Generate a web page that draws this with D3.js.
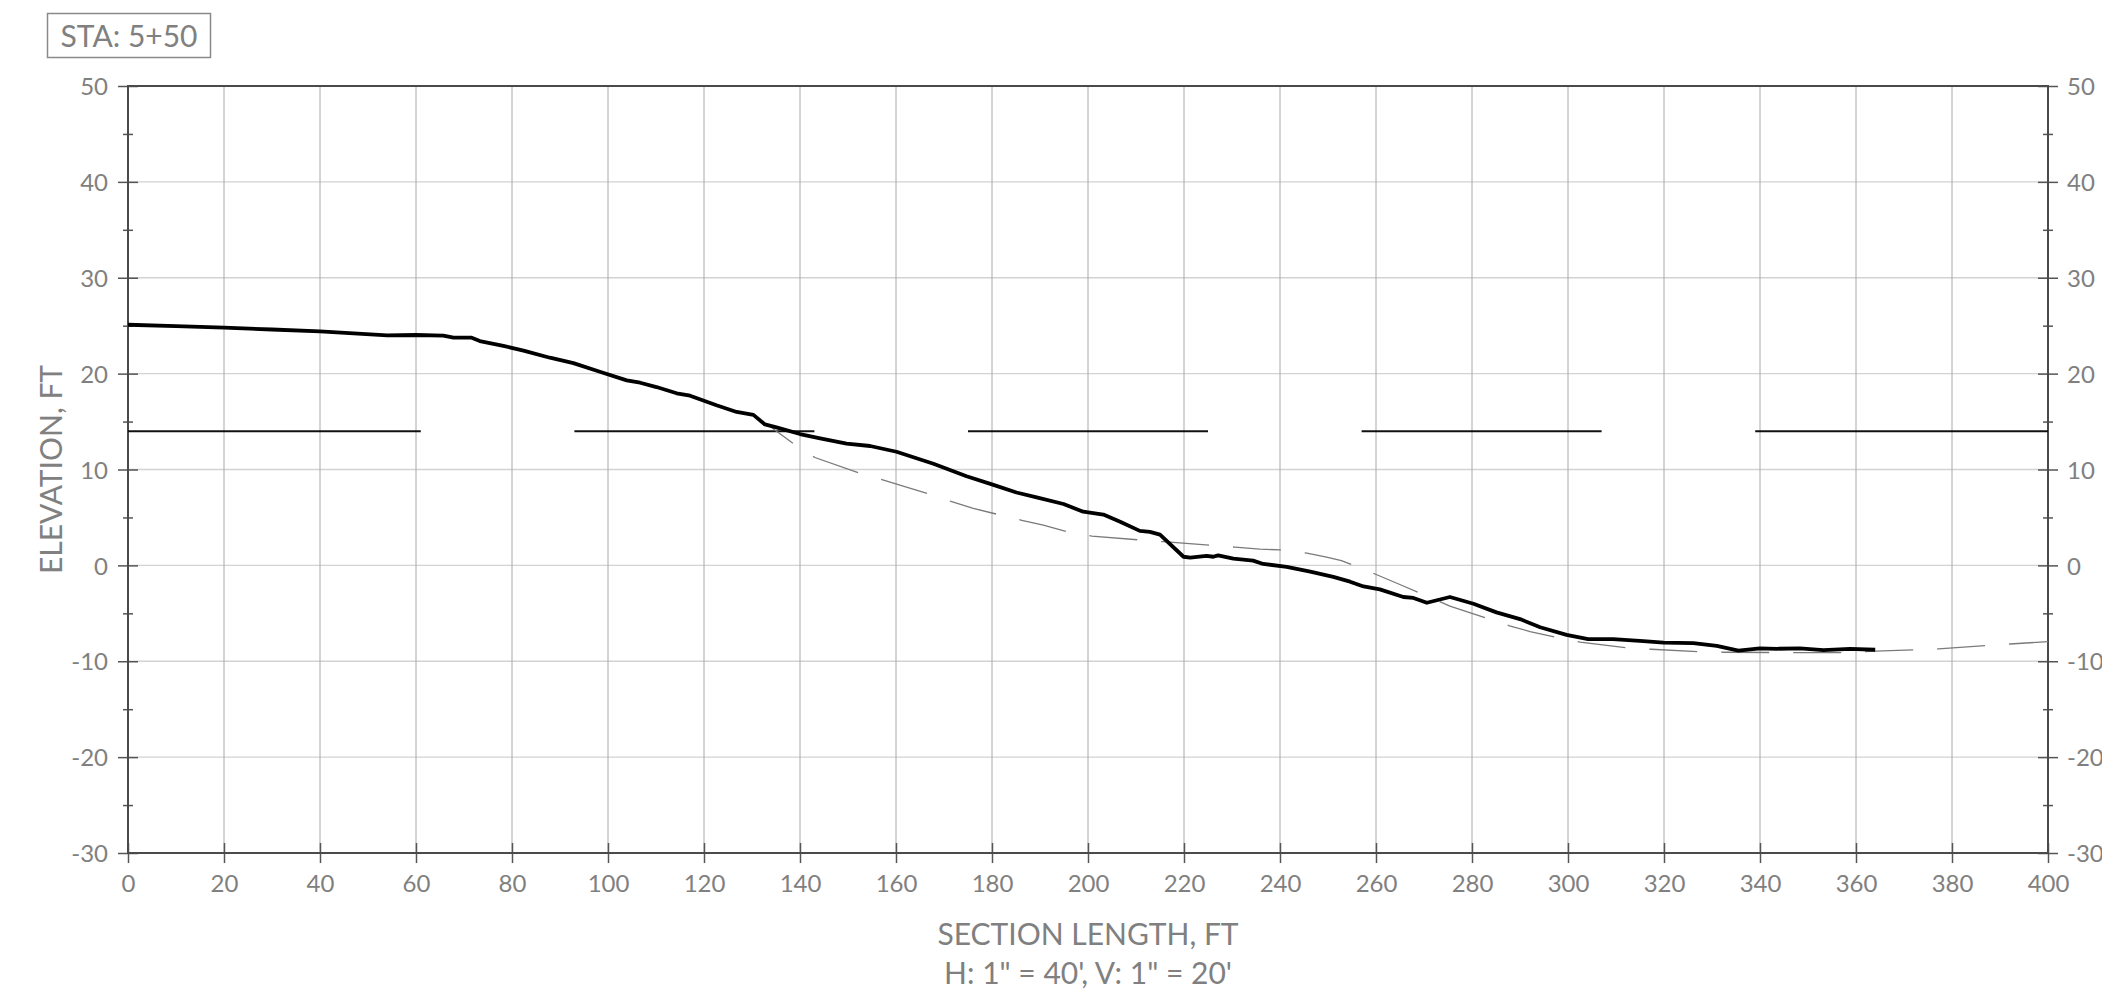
<!DOCTYPE html>
<html>
<head>
<meta charset="utf-8">
<script src="https://cdn.jsdelivr.net/npm/d3@7"></script>
<style>
  body { margin: 0; background: #fff; }
  svg text { font-family: "Century Gothic", "URW Gothic", Lato, sans-serif; fill: #808080; }
</style>
</head>
<body>
<div id="chart"></div>
<script>
// station label
var stationLabel = "STA: 5+50";

// existing ground profile (offset ft, elevation ft)
var groundX = [0, 10, 20, 30, 40, 54, 60, 65.7, 67.8, 71.6, 73.3, 78.2, 82.4, 87.9, 92.8, 98.3,
  103.9, 106.7, 110.1, 114.3, 117.1, 122.6, 126.8, 130.3, 132.7, 135.1, 140, 144.2, 149.7, 154.6,
  160.1, 167.8, 174.7, 180.3, 185.1, 189.3, 194.9, 199, 203.2, 206.7, 210.8, 212.9, 215, 219.9,
  221.3, 224.7, 226.1, 227.1, 230.3, 234.4, 236.5, 241.4, 246.3, 251.1, 254.6, 257.4, 260.8,
  265.7, 267.8, 270.6, 275.4, 280.3, 285.1, 290, 294.2, 299.7, 304.2, 309.4, 315.7, 319.9,
  326.1, 331, 335.5, 340, 343.5, 348.3, 353.2, 358.8, 364];
var groundY = [25.1, 24.95, 24.8, 24.6, 24.4, 24.0, 24.03, 23.96, 23.75, 23.75, 23.4, 22.9, 22.4, 21.66, 21.1, 20.2,
  19.3, 19.05, 18.6, 17.95, 17.7, 16.7, 16.0, 15.7, 14.7, 14.4, 13.7, 13.25, 12.7, 12.45,
  11.85, 10.6, 9.3, 8.4, 7.6, 7.1, 6.4, 5.6, 5.3, 4.55, 3.6, 3.5, 3.2, 0.9,
  0.8, 1.0, 0.9, 1.05, 0.7, 0.5, 0.15, -0.15, -0.65, -1.2, -1.7, -2.2, -2.5,
  -3.3, -3.4, -3.9, -3.3, -4.0, -4.9, -5.6, -6.45, -7.25, -7.7, -7.7, -7.9, -8.05,
  -8.1, -8.4, -8.9, -8.65, -8.7, -8.65, -8.85, -8.7, -8.8];

// proposed profile (dashed)
var designX = [133.5, 139, 143.1, 152.5, 157.4, 167.1, 171.6, 176.1, 181.3, 186.2, 190.7, 196, 200.8,
  210.8, 215.7, 225.8, 230.6, 235.8, 240.7, 245.6, 249.7, 252.8, 255.3, 259.8, 265.7, 269.2,
  275.4, 283, 287.8, 292.1, 297.6, 302.5, 312.2, 317.4, 327.1, 332.4, 347.3, 357.4, 364, 372.3,
  377.2, 387.2, 392.1, 400];
var designY = [14.6, 12.55, 11.25, 9.6, 8.9, 7.4, 6.65, 5.95, 5.3, 4.7, 4.2, 3.45, 3.06,
  2.65, 2.47, 2.1, 1.9, 1.7, 1.6, 1.27, 0.85, 0.5, 0.0, -0.9, -2.15, -2.9,
  -4.24, -5.5, -6.3, -6.9, -7.5, -8.0, -8.6, -8.75, -9.0, -9.06, -9.1, -9.1, -8.95, -8.8,
  -8.7, -8.35, -8.2, -7.95];

// water surface segments at elevation 14
var waterElev = 14;
var waterStart = [0, 93, 175, 257, 339];
var waterEnd = [61, 143, 225, 307, 400];

var xTicks = d3.range(0, 401, 20);
var yTicks = d3.range(-30, 51, 10);
var yMinorTicks = d3.range(-25, 50, 10);

var svgWidth = 2102, svgHeight = 994;
var margin = {top: 86, right: 54, bottom: 141, left: 128};
var width = svgWidth - margin.left - margin.right;
var height = svgHeight - margin.top - margin.bottom;

var svg = d3.select("#chart").append("svg")
  .attr("width", svgWidth)
  .attr("height", svgHeight);

var g = svg.append("g")
  .attr("transform", `translate(${margin.left}, ${margin.top})`);

var x = d3.scaleLinear().domain([0, 400]).range([0, width]);
var y = d3.scaleLinear().domain([-30, 50]).range([height, 0]);

// plain hyphen for negatives, like the drawing
var fmt = d => String(d);

// grid
g.append("g").selectAll("line")
  .data(yTicks.filter(d => d > -30 && d < 50))
  .enter().append("line")
  .attr("x1", 0).attr("x2", width)
  .attr("y1", d => y(d)).attr("y2", d => y(d))
  .attr("stroke", "#d2d2d2").attr("stroke-width", 1.4);

g.append("g").selectAll("line")
  .data(xTicks.filter(d => d > 0 && d < 400))
  .enter().append("line")
  .attr("y1", 0).attr("y2", height)
  .attr("x1", d => x(d)).attr("x2", d => x(d))
  .attr("stroke", "#a8a8a8").attr("stroke-width", 1);

// axes: outer ticks with labels, inner ticks without
function styleAxis(sel) {
  sel.select(".domain").remove();
  sel.selectAll(".tick line").attr("stroke", "#555").attr("stroke-width", 1.5);
  sel.selectAll(".tick text").style("font-size", "24px").attr("fill", "#808080");
}

var bottomOut = g.append("g").attr("transform", `translate(0, ${height})`)
  .call(d3.axisBottom(x).tickValues(xTicks).tickSize(10).tickPadding(12).tickFormat(fmt));
styleAxis(bottomOut);
var bottomIn = g.append("g").attr("transform", `translate(0, ${height})`)
  .call(d3.axisBottom(x).tickValues(xTicks).tickSize(-10).tickFormat(""));
styleAxis(bottomIn);

var leftOut = g.append("g")
  .call(d3.axisLeft(y).tickValues(yTicks).tickSize(10).tickPadding(10).tickFormat(fmt));
styleAxis(leftOut);
leftOut.selectAll(".tick text").attr("dy", "0.36em");
var leftIn = g.append("g")
  .call(d3.axisLeft(y).tickValues(yTicks).tickSize(-10).tickFormat(""));
styleAxis(leftIn);
var leftMinor = g.append("g").attr("transform", "translate(5,0)")
  .call(d3.axisLeft(y).tickValues(yMinorTicks).tickSize(10).tickFormat(""));
styleAxis(leftMinor);

var rightOut = g.append("g").attr("transform", `translate(${width}, 0)`)
  .call(d3.axisRight(y).tickValues(yTicks).tickSize(10).tickPadding(9).tickFormat(fmt));
styleAxis(rightOut);
rightOut.selectAll(".tick text").attr("dy", "0.36em");
var rightIn = g.append("g").attr("transform", `translate(${width}, 0)`)
  .call(d3.axisRight(y).tickValues(yTicks).tickSize(-10).tickFormat(""));
styleAxis(rightIn);
var rightMinor = g.append("g").attr("transform", `translate(${width - 5}, 0)`)
  .call(d3.axisRight(y).tickValues(yMinorTicks).tickSize(10).tickFormat(""));
styleAxis(rightMinor);

// frame
g.append("rect")
  .attr("x", 0).attr("y", 0)
  .attr("width", width).attr("height", height)
  .attr("fill", "none")
  .attr("stroke", "#4a4a4a")
  .attr("stroke-width", 2);

// water surface
g.append("g").selectAll("line")
  .data(waterStart)
  .enter().append("line")
  .attr("x1", d => x(d))
  .attr("x2", (d, i) => x(waterEnd[i]))
  .attr("y1", y(waterElev)).attr("y2", y(waterElev))
  .attr("stroke", "#111").attr("stroke-width", 2);

// proposed (dashed)
var designData = designX.map((d, i) => ({x: d, y: designY[i]}));
var line = d3.line().x(d => x(d.x)).y(d => y(d.y));
g.append("path")
  .datum(designData)
  .attr("d", line)
  .attr("fill", "none")
  .attr("stroke", "#7a7a7a")
  .attr("stroke-width", 1.3)
  .attr("stroke-dasharray", "48,24")
  .attr("stroke-dashoffset", 18);

// existing ground
var groundData = groundX.map((d, i) => ({x: d, y: groundY[i]}));
g.append("path")
  .datum(groundData)
  .attr("d", line)
  .attr("fill", "none")
  .attr("stroke", "#000")
  .attr("stroke-width", 3.8)
  .attr("stroke-linejoin", "round");

// axis titles
g.append("text")
  .attr("x", width / 2)
  .attr("y", height + 92)
  .attr("text-anchor", "middle")
  .style("font-size", "30px")
  .text("SECTION LENGTH, FT");

g.append("text")
  .attr("x", width / 2)
  .attr("y", height + 131)
  .attr("text-anchor", "middle")
  .style("font-size", "30px")
  .text("H: 1\" = 40', V: 1\" = 20'");

g.append("text")
  .attr("transform", "rotate(-90)")
  .attr("x", -height / 2)
  .attr("y", -66)
  .attr("text-anchor", "middle")
  .style("font-size", "30px")
  .text("ELEVATION, FT");

// station box
svg.append("rect")
  .attr("x", 47.5).attr("y", 13.5)
  .attr("width", 163).attr("height", 44)
  .attr("fill", "#fff")
  .attr("stroke", "#8a8a8a")
  .attr("stroke-width", 1.5);

svg.append("text")
  .attr("x", 129)
  .attr("y", 47)
  .attr("text-anchor", "middle")
  .style("font-size", "30px")
  .text(stationLabel);
</script>
</body>
</html>
